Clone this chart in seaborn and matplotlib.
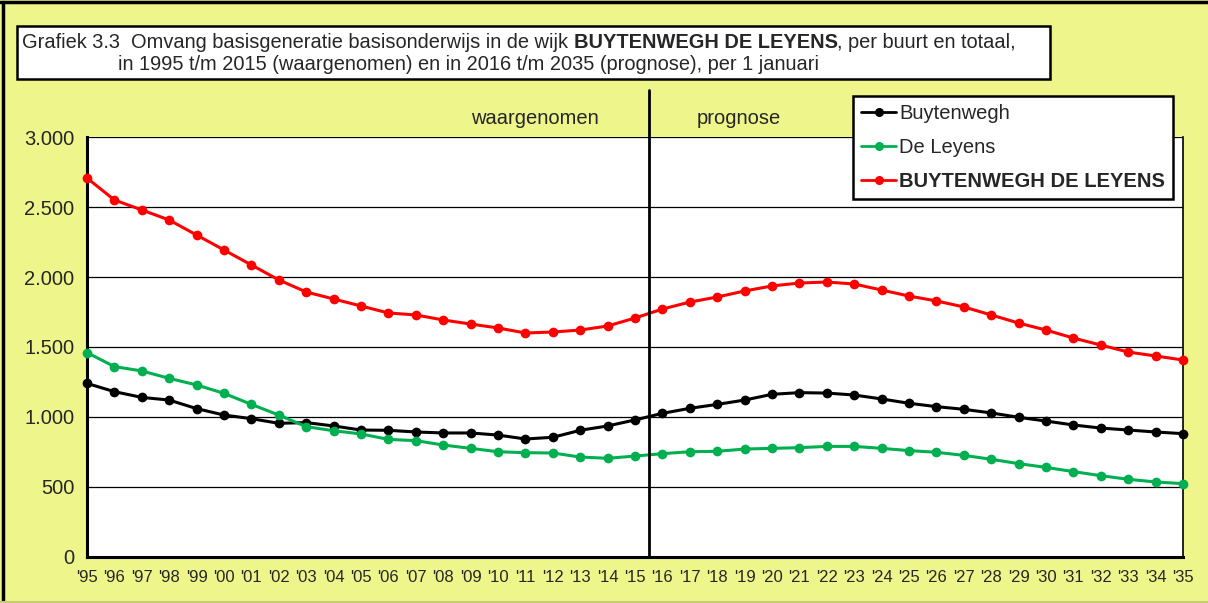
import numpy as np
import pandas as pd
import matplotlib
matplotlib.use('Agg')
import matplotlib.pyplot as plt
import seaborn as sns
from matplotlib.lines import Line2D
from matplotlib.patches import Rectangle
from matplotlib.ticker import FuncFormatter

# Jaren 1995 t/m 2035
jaren = list(range(1995, 2036))
labels_jaren = ["'" + str(j)[2:] for j in jaren]

buytenwegh = [1240, 1181, 1140, 1121, 1060, 1014, 988, 955, 960, 936,
              907, 905, 893, 886, 886, 871, 843, 855, 905, 936,
              979, 1026, 1062, 1090, 1121, 1162, 1174, 1171, 1157, 1129,
              1098, 1074, 1055, 1029, 998, 971, 943, 921, 907, 893, 881]
de_leyens = [1460, 1360, 1329, 1276, 1229, 1169, 1090, 1014, 931, 902,
             879, 840, 831, 800, 776, 752, 745, 743, 714, 705,
             721, 738, 752, 755, 771, 776, 781, 790, 790, 776,
             760, 748, 726, 698, 667, 640, 610, 581, 555, 536, 524]
totaal = [2707, 2550, 2479, 2407, 2300, 2193, 2086, 1979, 1893, 1843,
          1793, 1743, 1729, 1693, 1664, 1636, 1600, 1607, 1621, 1650,
          1707, 1771, 1821, 1857, 1900, 1936, 1957, 1964, 1950, 1907,
          1864, 1829, 1786, 1729, 1671, 1621, 1564, 1514, 1464, 1436, 1407]

reeksen = ['Buytenwegh', 'De Leyens', 'BUYTENWEGH DE LEYENS']
kleuren = ['#000000', '#00B050', '#FF0000']

df = pd.DataFrame({'pos': list(range(len(jaren))) * 3,
                   'aantal': buytenwegh + de_leyens + totaal,
                   'reeks': [r for r in reeksen for _ in jaren]})

geel = '#EEF58A'
sns.set_style('white')
plt.rcParams['font.family'] = ['Liberation Sans', 'DejaVu Sans']

fig = plt.figure(figsize=(12.08, 6.03), dpi=100, facecolor=geel)
ax = fig.add_axes([87/1208, 1 - 557/603, (1183 - 87)/1208, (557 - 137)/603])
ax.set_facecolor('white')

for reeks, kleur in zip(reeksen, kleuren):
    sns.lineplot(data=df[df['reeks'] == reeks], x='pos', y='aantal', color=kleur,
                 marker='o', markersize=7, markeredgewidth=0, linewidth=2.2,
                 ax=ax, legend=False, clip_on=False, zorder=3)

ax.set_xlim(0, len(jaren) - 1)
ax.set_ylim(0, 3000)
ax.set_yticks(range(0, 3001, 500))
ax.yaxis.set_major_formatter(FuncFormatter(lambda v, p: f'{int(v):,}'.replace(',', '.')))
ax.set_xticks(range(len(jaren)))
ax.set_xticklabels(labels_jaren, fontsize=12)
ax.tick_params(axis='y', labelsize=14.5, direction='out', length=5, width=1, color='black', pad=4)
ax.tick_params(axis='x', direction='out', length=5, width=1, color='black', pad=4)
ax.set_xlabel('')
ax.set_ylabel('')
ax.grid(axis='y', color='black', linewidth=0.9)
ax.grid(axis='x', visible=False)
for kant in ['left', 'bottom']:
    ax.spines[kant].set_color('black')
    ax.spines[kant].set_linewidth(2.2)
ax.spines['right'].set_color('black')
ax.spines['right'].set_linewidth(1.2)
ax.spines['top'].set_visible(False)

# scheiding waargenomen / prognose
scheiding = 20.5
ax.plot([scheiding, scheiding], [0, 3000 + 47 / 0.14], color='black', linewidth=2,
        clip_on=False, zorder=4)
ax.text(16.35, 3000 + 19 / 0.14, 'waargenomen', ha='center', va='center', fontsize=14.5)
ax.text(23.8, 3000 + 19 / 0.14, 'prognose', ha='center', va='center', fontsize=14.5)

# legenda
handles = [Line2D([0], [0], color=k, marker='o', markersize=6.5, markeredgewidth=0, linewidth=2)
           for k in kleuren]
leg = fig.legend(handles, reeksen, loc='upper left',
                 bbox_to_anchor=(853/1208, 1 - 96/603), fontsize=14.5,
                 frameon=True, fancybox=False, edgecolor='black', facecolor='white',
                 framealpha=1, handlelength=1.75, handletextpad=0.15, labelspacing=0.75,
                 borderpad=0.4, borderaxespad=0)
leg.get_frame().set_linewidth(1.8)
leg.get_texts()[2].set_fontweight('bold')

# titelkader
fig.patches.append(Rectangle((17/1208, 1 - 79/603), (1050 - 17)/1208, (79 - 26)/603,
                             transform=fig.transFigure, facecolor='white', edgecolor='black',
                             linewidth=1.8, zorder=1))
titelgrootte = 14.4
r = fig.canvas.get_renderer()
deel1 = fig.text(22/1208, 1 - 43/603, 'Grafiek 3.3  Omvang basisgeneratie basisonderwijs in de wijk ',
                 fontsize=titelgrootte, va='center', ha='left')
bb = deel1.get_window_extent(renderer=r)
vet = fig.text(bb.x1 / fig.bbox.width, 1 - 43/603, 'BUYTENWEGH DE LEYENS',
               fontsize=titelgrootte, va='center', ha='left', fontweight='bold')
bb2 = vet.get_window_extent(renderer=r)
fig.text(bb2.x1 / fig.bbox.width, 1 - 43/603, ', per buurt en totaal,',
         fontsize=titelgrootte, va='center', ha='left')
fig.text(118/1208, 1 - 64/603,
         'in 1995 t/m 2015 (waargenomen) en in 2016 t/m 2035 (prognose), per 1 januari',
         fontsize=titelgrootte, va='center', ha='left')

# buitenrand
fig.add_artist(Line2D([0.0025, 0.0025], [0, 0.996], color='black', linewidth=2.5,
                      transform=fig.transFigure))
fig.add_artist(Line2D([0, 1], [0.996, 0.996], color='black', linewidth=2.5,
                      transform=fig.transFigure))
fig.add_artist(Line2D([0, 1], [0.002, 0.002], color='#C8CC70', linewidth=1.5,
                      transform=fig.transFigure))

fig.savefig('out.png', dpi=100, facecolor=geel)
